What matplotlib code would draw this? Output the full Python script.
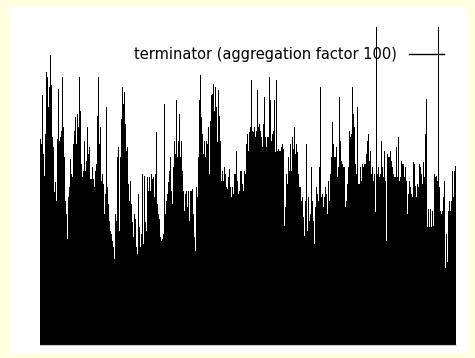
import matplotlib
matplotlib.use("Agg")
import matplotlib.pyplot as plt
from matplotlib.lines import Line2D
from matplotlib.patches import Rectangle
import numpy as np

# aggregated trace values (arbitrary units) left to right
trace = [
    617, 602, 747, 572, 507, 632, 817, 802, 712, 772, 867, 777, 622, 592, 457, 487,
    432, 617, 767, 612, 622, 642, 802, 652, 562, 432, 392, 317, 442, 472, 557, 512,
    502, 602, 642, 682, 602, 692, 652, 802, 702, 542, 502, 522, 612, 522, 552, 652,
    572, 592, 497, 497, 532, 497, 472, 522, 542, 687, 802, 602, 652, 492, 512, 482,
    392, 452, 712, 472, 422, 372, 342, 332, 312, 292, 257, 392, 372, 562, 592, 342,
    562, 677, 772, 722, 757, 662, 582, 592, 482, 432, 492, 422, 367, 322, 392, 377,
    292, 272, 452, 352, 292, 332, 512, 302, 507, 367, 342, 502, 462, 502, 462, 512,
    497, 502, 442, 512, 637, 422, 392, 377, 322, 312, 317, 332, 722, 392, 432, 452,
    487, 522, 562, 462, 422, 532, 612, 572, 732, 562, 612, 692, 562, 612, 522, 462,
    402, 452, 462, 412, 462, 372, 462, 462, 467, 392, 322, 282, 472, 442, 562, 732,
    807, 682, 632, 572, 612, 562, 612, 602, 652, 512, 672, 747, 752, 782, 702, 772,
    712, 607, 762, 687, 612, 492, 522, 492, 532, 512, 472, 467, 502, 527, 472, 442,
    472, 452, 512, 512, 582, 492, 452, 462, 522, 522, 482, 462, 522, 512, 602, 632,
    582, 637, 652, 792, 642, 637, 652, 622, 642, 762, 652, 662, 642, 622, 592, 662,
    742, 622, 592, 622, 622, 802, 732, 612, 632, 642, 732, 577, 792, 582, 587, 582,
    582, 592, 602, 587, 357, 412, 512, 482, 562, 522, 602, 522, 622, 587, 652, 572,
    602, 577, 512, 472, 472, 432, 442, 382, 327, 432, 602, 342, 442, 372, 392, 532,
    432, 372, 302, 412, 472, 452, 432, 532, 772, 442, 452, 412, 442, 472, 452, 392,
    492, 432, 512, 562, 667, 602, 562, 562, 592, 502, 532, 742, 612, 552, 542, 532,
    532, 412, 432, 482, 532, 642, 622, 632, 772, 692, 652, 542, 512, 712, 482, 482,
    532, 492, 542, 532, 542, 542, 572, 612, 632, 552, 582, 512, 532, 492, 512, 397,
    1150, 512, 532, 502, 512, 612, 532, 502, 582, 492, 312, 572, 562, 562, 582, 552,
    532, 512, 502, 502, 592, 502, 622, 492, 502, 552, 542, 542, 502, 532, 492, 392,
    452, 492, 472, 452, 442, 547, 542, 477, 442, 482, 472, 542, 532, 512, 482, 547,
    502, 632, 737, 352, 407, 352, 407, 352, 402, 357, 512, 502, 507, 492, 1150, 472,
    402, 392, 402, 442, 492, 232, 332, 247, 402, 432, 402, 432, 522, 442, 522, 537,
]
series_label = "terminator (aggregation factor 100)"
y_top = 952

fig = plt.figure(figsize=(4.75, 3.58), dpi=100, facecolor="#ffffe0")
# white page area inside the yellow border
page = Rectangle((10 / 475, 5 / 358), 457 / 475, 346 / 358,
                 transform=fig.transFigure, facecolor="white",
                 edgecolor="none", zorder=-10)
fig.patches.append(page)

ax = fig.add_axes([40 / 475, 13 / 358, 416 / 475, 318 / 358], zorder=1)
ax.patch.set_alpha(0)

x = np.arange(len(trace))
ax.bar(x, trace, width=1.0, color="black", linewidth=0, zorder=2)

ax.set_xlim(-0.5, len(trace) - 0.5)
ax.set_ylim(0, y_top)
ax.set_xticks([])
ax.set_yticks([])
for side in ["top", "left", "right"]:
    ax.spines[side].set_visible(False)
ax.spines["bottom"].set_color("#c8c8c8")
ax.spines["bottom"].set_linewidth(0.8)

handle = Line2D([], [], color="black", linewidth=1.0)
leg = ax.legend([handle], [series_label], loc="upper right", frameon=False,
                markerfirst=False, handlelength=2.4, handletextpad=0.8,
                bbox_to_anchor=(0.985, 0.955), borderaxespad=0,
                prop={"family": "DejaVu Sans", "size": 10.5})
leg.set_zorder(1)

fig.savefig("out.png", dpi=100, facecolor=fig.get_facecolor())
